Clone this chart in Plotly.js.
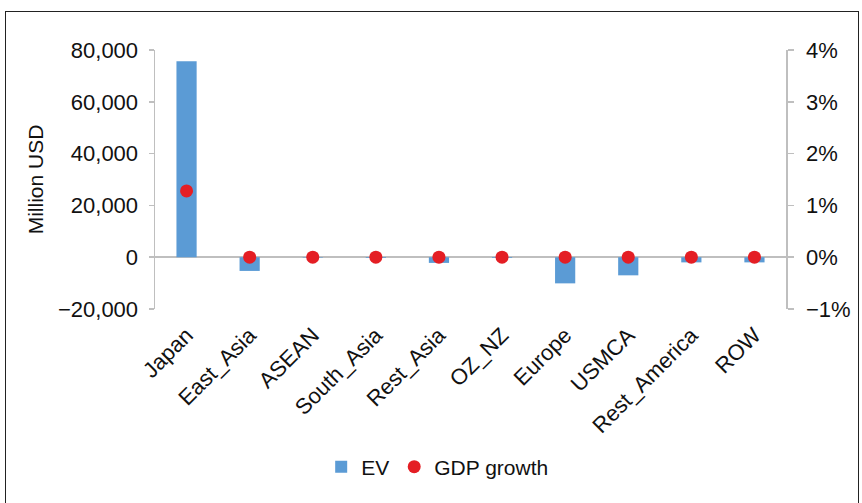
<!DOCTYPE html>
<html>
<head>
<meta charset="utf-8">
<script src="https://cdn.plot.ly/plotly-3.0.1.min.js"></script>
<style>
  html, body { margin: 0; padding: 0; background: #fff; }
  #wrap { position: relative; width: 862px; height: 503px; overflow: hidden; }
  #chart { position: absolute; left: 0; top: 0; width: 862px; height: 503px; }
  #frame { position: absolute; left: 5px; top: 11px; width: 852px; height: 520px;
           border: 1.5px solid #222; pointer-events: none; }
</style>
</head>
<body>
<div id="wrap">
  <div id="chart"></div>
  <div id="frame"></div>
</div>
<script>
const regions = ["Japan", "East_Asia", "ASEAN", "South_Asia", "Rest_Asia", "OZ_NZ", "Europe", "USMCA", "Rest_America", "ROW"];
const evValues = [75700, -5300, -200, -300, -2200, -300, -10100, -7000, -2000, -2000];
const gdpGrowth = [0.0128, 0, 0, 0, 0, 0, 0, 0, 0, 0];
const leftTicks = [-20000, 0, 20000, 40000, 60000, 80000];
const leftTickText = ["\u221220,000", "0", "20,000", "40,000", "60,000", "80,000"];
const rightTicks = [-0.01, 0, 0.01, 0.02, 0.03, 0.04];
const rightTickText = ["\u22121%", "0%", "1%", "2%", "3%", "4%"];

const FONT = "Liberation Sans, Arial, Helvetica, sans-serif";
const GRAY = "#bfbfbf";

const traces = [
  {
    type: "bar", name: "EV", x: regions, y: evValues,
    marker: { color: "#5b9bd5" }, yaxis: "y"
  },
  {
    type: "scatter", mode: "markers", name: "GDP growth", x: regions, y: gdpGrowth,
    marker: { color: "#e41e24", size: 13 }, yaxis: "y2"
  }
];

const layout = {
  width: 862, height: 503,
  margin: { l: 155, r: 76, t: 50, b: 194 },
  paper_bgcolor: "#fff", plot_bgcolor: "#fff",
  font: { family: FONT, size: 22, color: "#111" },
  bargap: 0.68,
  showlegend: true,
  legend: {
    orientation: "h", x: 0.448, xanchor: "center", y: -0.61, yanchor: "middle",
    font: { size: 21 }, traceorder: "normal", itemwidth: 30
  },
  xaxis: {
    type: "category", range: [-0.5, regions.length - 0.5], autorange: false,
    tickangle: -45, showgrid: false, showline: false,
    ticks: "", tickfont: { size: 22 }, ticklabelstandoff: 8
  },
  yaxis: {
    range: [-20000, 80000], tickvals: leftTicks, ticktext: leftTickText,
    showgrid: false, showline: true, linecolor: GRAY, linewidth: 1.5,
    ticks: "outside", ticklen: 5, tickcolor: GRAY, tickwidth: 1.5,
    zeroline: true, zerolinecolor: GRAY, zerolinewidth: 1.5,
    tickfont: { size: 22 }, ticklabelstandoff: 6,
    title: { text: "Million USD", font: { size: 21 }, standoff: 8 }
  },
  yaxis2: {
    overlaying: "y", side: "right",
    range: [-0.01, 0.04], tickvals: rightTicks, ticktext: rightTickText,
    showgrid: false, showline: true, linecolor: GRAY, linewidth: 1.5,
    ticks: "outside", ticklen: 6, tickcolor: GRAY, tickwidth: 1.5,
    zeroline: false, tickfont: { size: 22 }, ticklabelstandoff: 8
  }
};

Plotly.newPlot("chart", traces, layout, { displayModeBar: false, staticPlot: true });
</script>
</body>
</html>
